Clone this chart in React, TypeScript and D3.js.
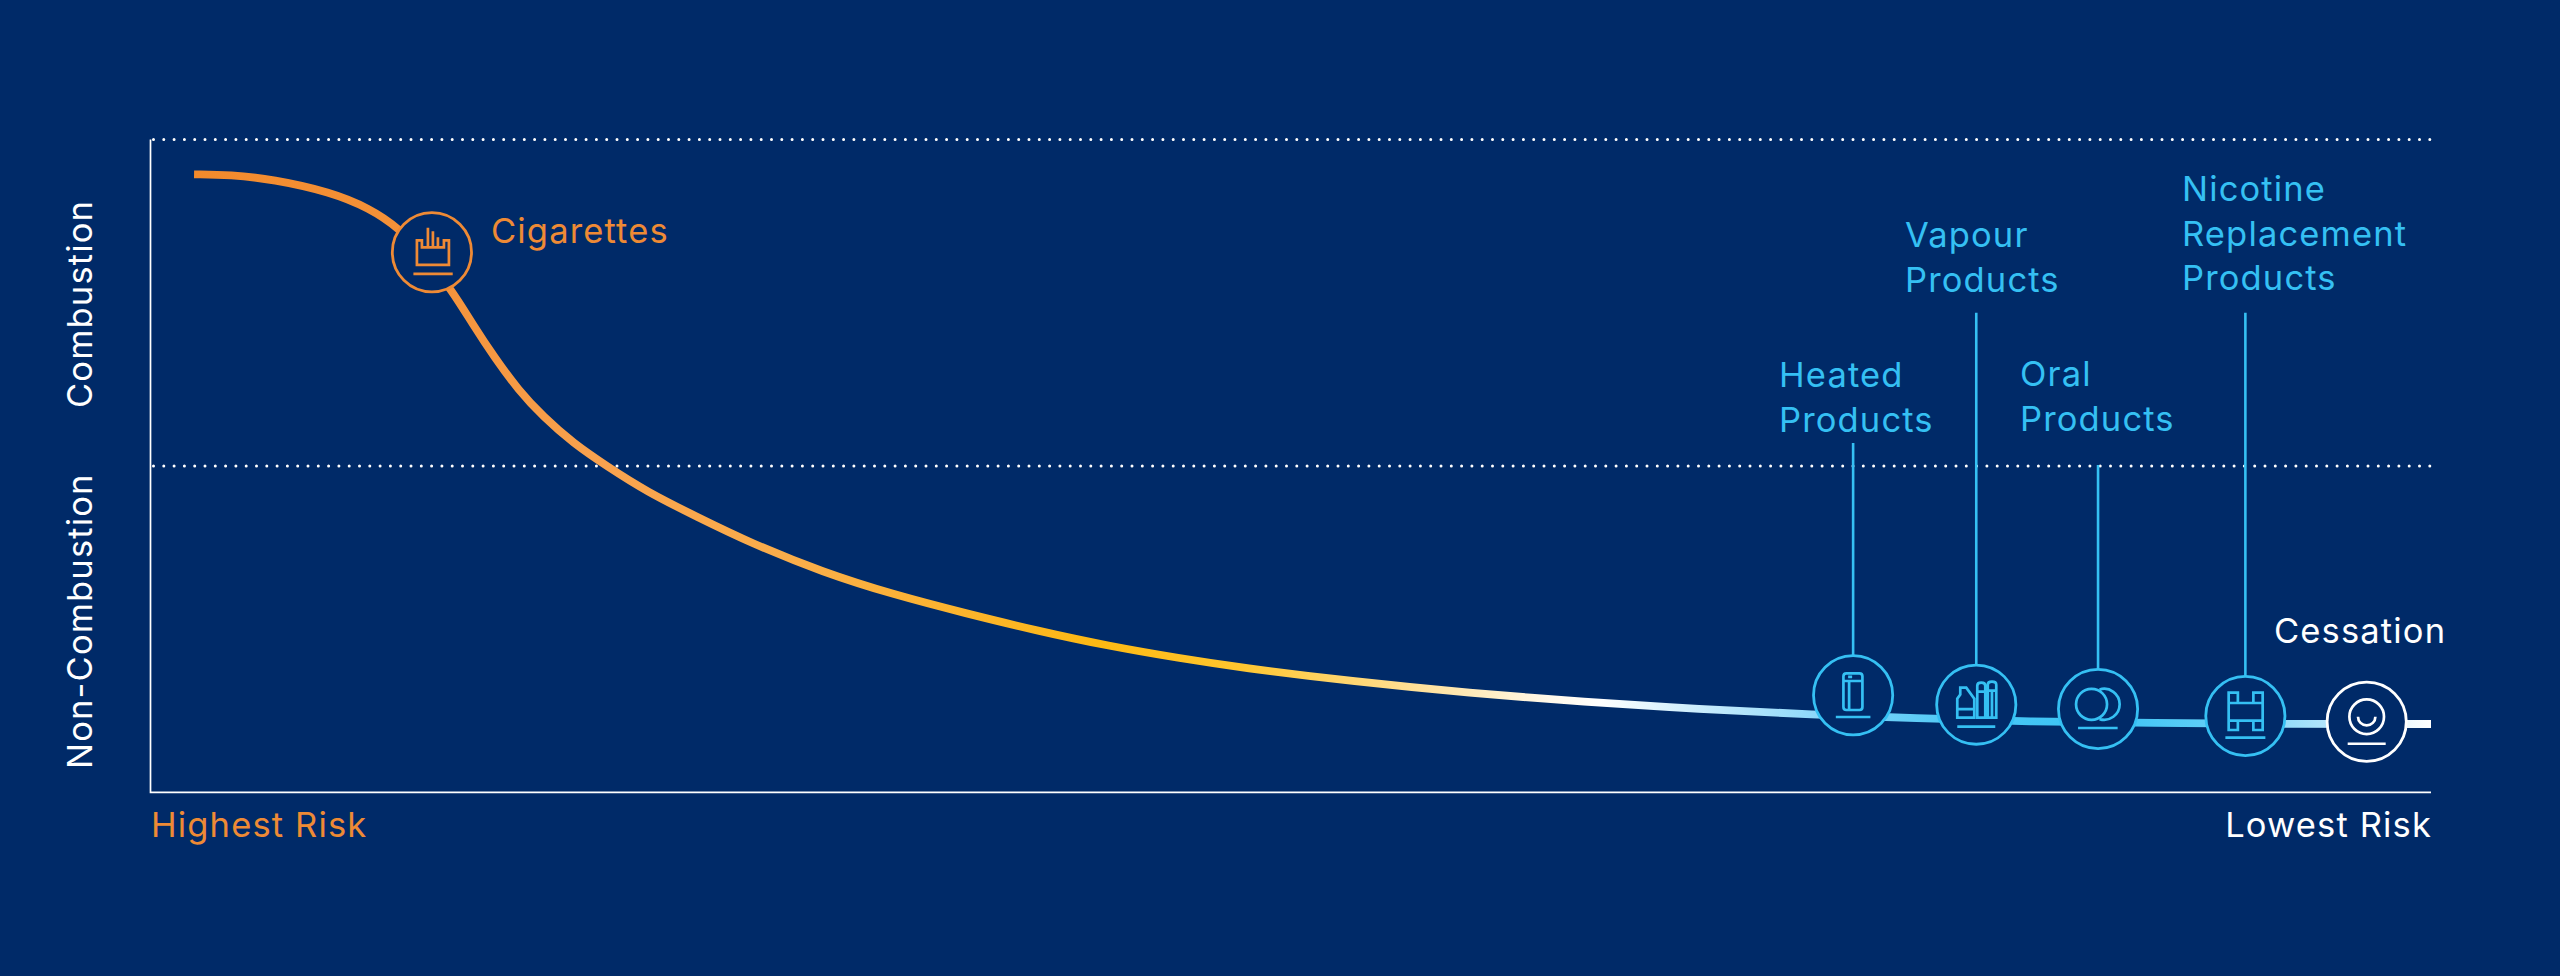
import { useEffect, useRef } from "react";
import * as d3 from "d3";

// curve, risk (0-100) vs. position on the combustion axis (0-100)
const curveRisk = [
  1.91, 3.5, 5.37, 7.89, 9.58, 10.9, 12.04, 13.21, 14.15, 15.11, 16.13, 17.22, 18.54, 20.0, 21.76,
  23.95, 26.35, 29.49, 32.6, 35.75, 38.87, 42.01, 45.14, 47.77, 52.81, 57.84, 62.86, 67.9, 72.94,
  77.33, 82.41, 87.67, 94.25, 100,
];
const curveLevel = [
  94.67, 94.6, 93.9, 91.96, 89.51, 86.44, 82.1, 76.95, 71.58, 66.48, 61.63, 57.54, 53.46, 49.98,
  46.05, 42.22, 38.14, 33.7, 30.27, 27.42, 24.76, 22.41, 20.53, 19.12, 16.94, 15.2, 13.88, 12.71,
  11.89, 11.38, 10.82, 10.62, 10.46, 10.46,
];

const productIds = ["cigarettes", "heated", "vapour", "oral", "nrt", "cessation"];
const productRisk = [12.34, 74.66, 80.06, 85.4, 91.86, 97.18];
const productLevel = [82.72, 14.86, 13.43, 12.76, 11.69, 10.81];
const productLabels = [
  ["Cigarettes"],
  ["Heated", "Products"],
  ["Vapour", "Products"],
  ["Oral", "Products"],
  ["Nicotine", "Replacement", "Products"],
  ["Cessation"],
];
const yBands = ["Combustion", "Non-Combustion"];
const xEnds = ["Highest Risk", "Lowest Risk"];
const bandLevels = [100, 50];

const WIDTH = 2560;
const HEIGHT = 976;
const BG = "#002a68";
const ORANGE = "#ee8a35";
const BLUE = "#35c0f3";
const WHITE = "#ffffff";
const FONT = "Inter, sans-serif";
const FONT_SIZE = 34.5;
const TRACKING = 1.15;

const x = d3.scaleLinear().domain([0, 100]).range([150.5, 2431]);
const y = d3.scaleLinear().domain([0, 100]).range([792.3, 139.5]);

// text position of each label block: left edge and first baseline
const labelPos: Record<string, [number, number, string]> = {
  cigarettes: [491, 242.7, ORANGE],
  heated: [1779, 386.7, BLUE],
  vapour: [1905, 246.7, BLUE],
  oral: [2020, 386, BLUE],
  nrt: [2182, 200.7, BLUE],
  cessation: [2274, 642.7, WHITE],
};

// top of the stem from the circle up to the label
const stemTop: Record<string, number> = { heated: 443, vapour: 312.7, oral: 465, nrt: 312.7 };

// icons, drawn around the circle centre
const icons: Record<string, string> = {
  cigarettes:
    "M-15,-12 H-10 V-5 H12 V-12 H17 V12.5 H-15 Z M-4,-5 V-24.5 M1,-5 V-21 M6,-5 V-15 M-18.5,21.5 H20.8",
  heated:
    "M-6.7,-22 H6.3 Q9.3,-22 9.3,-19 V11.7 Q9.3,14.7 6.3,14.7 H-6.7 Q-9.7,14.7 -9.7,11.7 V-19 Q-9.7,-22 -6.7,-22 Z M-9.7,-14.3 H9.3 M-4,-14.3 V14.7 M-5,-18.5 H-1 M-17.3,21.7 H17.3",
  vapour:
    "M-19,13 V-6 L-16,-10 V-17 H-10 L-2,-6 V13 Z M-19,4.5 H-2 M1,13 V-19 Q1,-22 5,-22 Q9,-22 9,-19 V13 Z M1,-13 H9 M11.5,13 V-20 Q11.5,-23 15.7,-23 Q20,-23 20,-20 V13 Z M15.7,-14 V13 M11.5,-14 H20 M-19,22 H19",
  oral:
    "M9,-4.7 A15.5,15.5 0 1 1 -22,-4.7 A15.5,15.5 0 1 1 9,-4.7 Z M1.5,-19.5 A15.5,15.5 0 1 1 1.5,10.1 M-20,19 H19.6",
  nrt:
    "M-16.7,-23.3 H-7.5 V-13 H8 V-23.3 H17.3 V14 H8 V4.7 H-7.5 V14 H-16.7 Z M-16.7,-13 H-7.5 M8,-13 H17.3 M-16.7,4.7 H-7.5 M8,4.7 H17.3 M-20,21.7 H20",
  cessation:
    "M17.3,-5 A17.3,17.3 0 1 1 -17.3,-5 A17.3,17.3 0 1 1 17.3,-5 Z M-8.7,-5 A8.7,8.7 0 0 0 8.7,-5 M-19,22 H19",
};

const gradientStops: [number, string][] = [
  [194, "#f28a2c"],
  [430, "#f4923a"],
  [600, "#f8a24f"],
  [800, "#faae4a"],
  [1100, "#fdb913"],
  [1240, "#ffc62f"],
  [1400, "#ffdd8e"],
  [1550, "#fff8ea"],
  [1600, "#ffffff"],
  [1814, "#8ed8fa"],
  [1950, "#4fc9f6"],
  [2100, "#38c3f5"],
  [2200, "#5ccdf7"],
  [2320, "#ade3fb"],
  [2431, "#ffffff"],
];

export default function App() {
  const ref = useRef<SVGSVGElement>(null);

  useEffect(() => {
    const svg = d3.select(ref.current);
    svg.selectAll("*").remove();

    const label = (t: string, color: string) =>
      svg
        .append("text")
        .attr("fill", color)
        .attr("font-family", FONT)
        .attr("font-size", FONT_SIZE)
        .attr("font-weight", 400)
        .attr("letter-spacing", TRACKING)
        .text(t);

    svg.append("rect").attr("width", WIDTH).attr("height", HEIGHT).attr("fill", BG);

    const grad = svg
      .append("defs")
      .append("linearGradient")
      .attr("id", "riskGrad")
      .attr("gradientUnits", "userSpaceOnUse")
      .attr("x1", 194)
      .attr("x2", 2431)
      .attr("y1", 0)
      .attr("y2", 0);
    gradientStops.forEach(([px, color]) => {
      grad
        .append("stop")
        .attr("offset", (px - 194) / (2431 - 194))
        .attr("stop-color", color);
    });

    // dotted band lines
    svg
      .selectAll(".band")
      .data(bandLevels)
      .enter()
      .append("line")
      .attr("x1", 153.5)
      .attr("x2", x(100))
      .attr("y1", (d) => y(d))
      .attr("y2", (d) => y(d))
      .attr("stroke", WHITE)
      .attr("stroke-width", 3)
      .attr("stroke-linecap", "round")
      .attr("stroke-dasharray", "0 10.3");

    // axes
    svg
      .append("path")
      .attr("d", `M${x(0)},${y(100)} V${y(0)} H${x(100)}`)
      .attr("fill", "none")
      .attr("stroke", WHITE)
      .attr("stroke-width", 1.7);

    // risk curve
    const line = d3
      .line<number>()
      .x((d) => x(d))
      .y((_, i) => y(curveLevel[i]))
      .curve(d3.curveBasis);
    svg
      .append("path")
      .attr("d", line(curveRisk))
      .attr("fill", "none")
      .attr("stroke", "url(#riskGrad)")
      .attr("stroke-width", 7.8);

    // stems, circles, icons
    productIds.forEach((id, i) => {
      const cx = x(productRisk[i]);
      const cy = y(productLevel[i]);
      const color = labelPos[id][2];
      if (stemTop[id] !== undefined) {
        svg
          .append("line")
          .attr("x1", cx)
          .attr("x2", cx)
          .attr("y1", stemTop[id])
          .attr("y2", cy)
          .attr("stroke", color)
          .attr("stroke-width", 2.6);
      }
      const g = svg.append("g").attr("transform", `translate(${cx},${cy})`);
      g.append("circle")
        .attr("r", 39.6)
        .attr("fill", BG)
        .attr("stroke", color)
        .attr("stroke-width", 2.8);
      g.append("path")
        .attr("d", icons[id])
        .attr("fill", "none")
        .attr("stroke", color)
        .attr("stroke-width", 2.7);

      productLabels[i].forEach((text, j) => {
        label(text, color)
          .attr("x", labelPos[id][0])
          .attr("y", labelPos[id][1] + j * 44.8);
      });
    });

    // axis end labels
    label(xEnds[0], ORANGE).attr("x", 151).attr("y", 836.7);
    label(xEnds[1], WHITE).attr("x", 2432).attr("y", 836.7).attr("text-anchor", "end");

    // rotated band labels
    [408, 769].forEach((bottom, i) => {
      label(yBands[i], WHITE).attr("transform", `translate(91.7,${bottom}) rotate(-90)`);
    });
  }, []);

  return (
    <svg
      ref={ref}
      width={WIDTH}
      height={HEIGHT}
      style={{ position: "absolute", left: 0, top: 0, display: "block" }}
    />
  );
}
